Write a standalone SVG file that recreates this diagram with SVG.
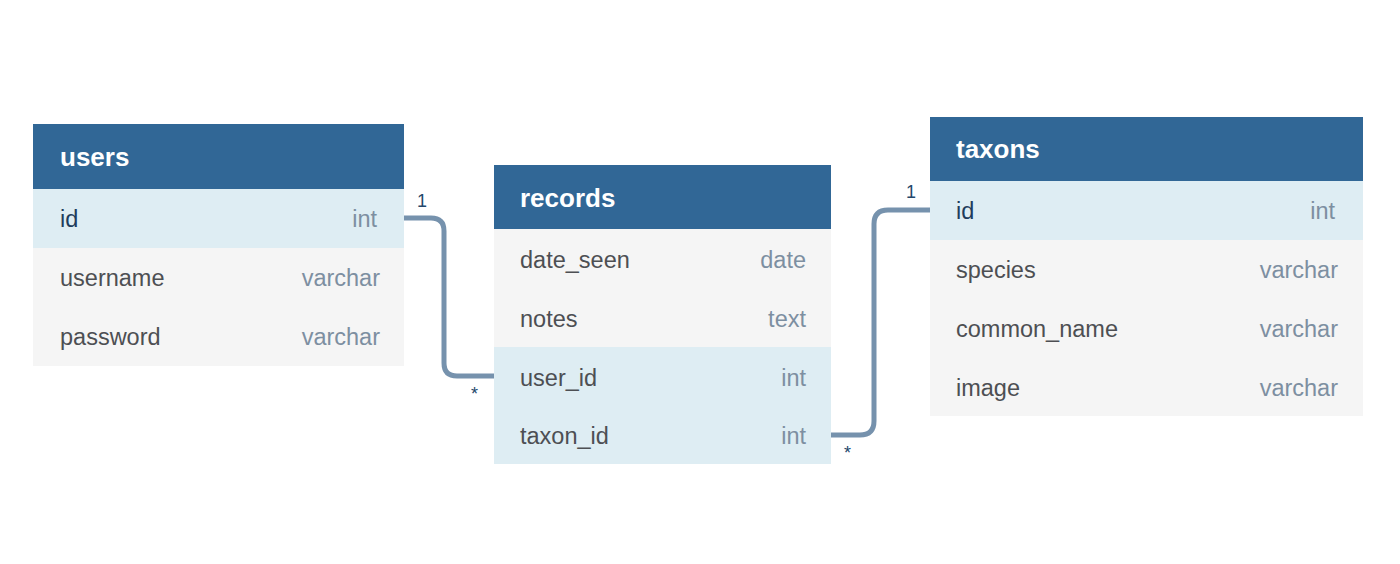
<svg xmlns="http://www.w3.org/2000/svg" width="1400" height="564" viewBox="0 0 1400 564">
<style>
.hdr{fill:#316796}
.pk{fill:#deedf3}
.row{fill:#f5f5f5}
.title{font-family:"Liberation Sans",Arial,sans-serif;font-size:26px;font-weight:bold;fill:#ffffff}
.fname{font-family:"Liberation Sans",Arial,sans-serif;font-size:23.5px;fill:#4d4f53}
.fpk{font-family:"Liberation Sans",Arial,sans-serif;font-size:23.5px;fill:#1e3d5c}
.ftype{font-family:"Liberation Sans",Arial,sans-serif;font-size:23.5px;fill:#7d8fa1;text-anchor:end}
.conn{fill:none;stroke:#7692ad;stroke-width:5}
.card{font-family:"Liberation Sans",Arial,sans-serif;font-size:18px;fill:#24476b}
</style>
<rect width="1400" height="564" fill="#ffffff"/>
<g id="connectors">
<path class="conn" d="M404,218 H431 Q444,218 444,231 V363 Q444,376 457,376 H494"/>
<path class="conn" d="M831,435 H860 Q874,435 874,421 V224 Q874,210 888,210 H930"/>
<text class="card" x="417" y="207">1</text>
<text class="card" x="471" y="400">*</text>
<text class="card" x="906" y="198">1</text>
<text class="card" x="844" y="459">*</text>
</g>
<g id="users">
<rect class="hdr" x="33" y="124" width="371" height="65"/>
<rect class="pk" x="33" y="189" width="371" height="59"/>
<rect class="row" x="33" y="248" width="371" height="118"/>
<text class="title" x="60" y="166">users</text>
<text class="fpk" x="60" y="227">id</text><text class="ftype" x="377" y="227">int</text>
<text class="fname" x="60" y="286">username</text><text class="ftype" x="380" y="286">varchar</text>
<text class="fname" x="60" y="345">password</text><text class="ftype" x="380" y="345">varchar</text>
</g>
<g id="records">
<rect class="hdr" x="494" y="165" width="337" height="64"/>
<rect class="row" x="494" y="229" width="337" height="118"/>
<rect class="pk" x="494" y="347" width="337" height="117"/>
<text class="title" x="520" y="207">records</text>
<text class="fname" x="520" y="268">date_seen</text><text class="ftype" x="806" y="268">date</text>
<text class="fname" x="520" y="327">notes</text><text class="ftype" x="806" y="327">text</text>
<text class="fname" x="520" y="386">user_id</text><text class="ftype" x="806" y="386">int</text>
<text class="fname" x="520" y="444">taxon_id</text><text class="ftype" x="806" y="444">int</text>
</g>
<g id="taxons">
<rect class="hdr" x="930" y="117" width="433" height="64"/>
<rect class="pk" x="930" y="181" width="433" height="59"/>
<rect class="row" x="930" y="240" width="433" height="176"/>
<text class="title" x="956" y="158">taxons</text>
<text class="fpk" x="956" y="219">id</text><text class="ftype" x="1335" y="219">int</text>
<text class="fname" x="956" y="278">species</text><text class="ftype" x="1338" y="278">varchar</text>
<text class="fname" x="956" y="337">common_name</text><text class="ftype" x="1338" y="337">varchar</text>
<text class="fname" x="956" y="396">image</text><text class="ftype" x="1338" y="396">varchar</text>
</g>
</svg>
